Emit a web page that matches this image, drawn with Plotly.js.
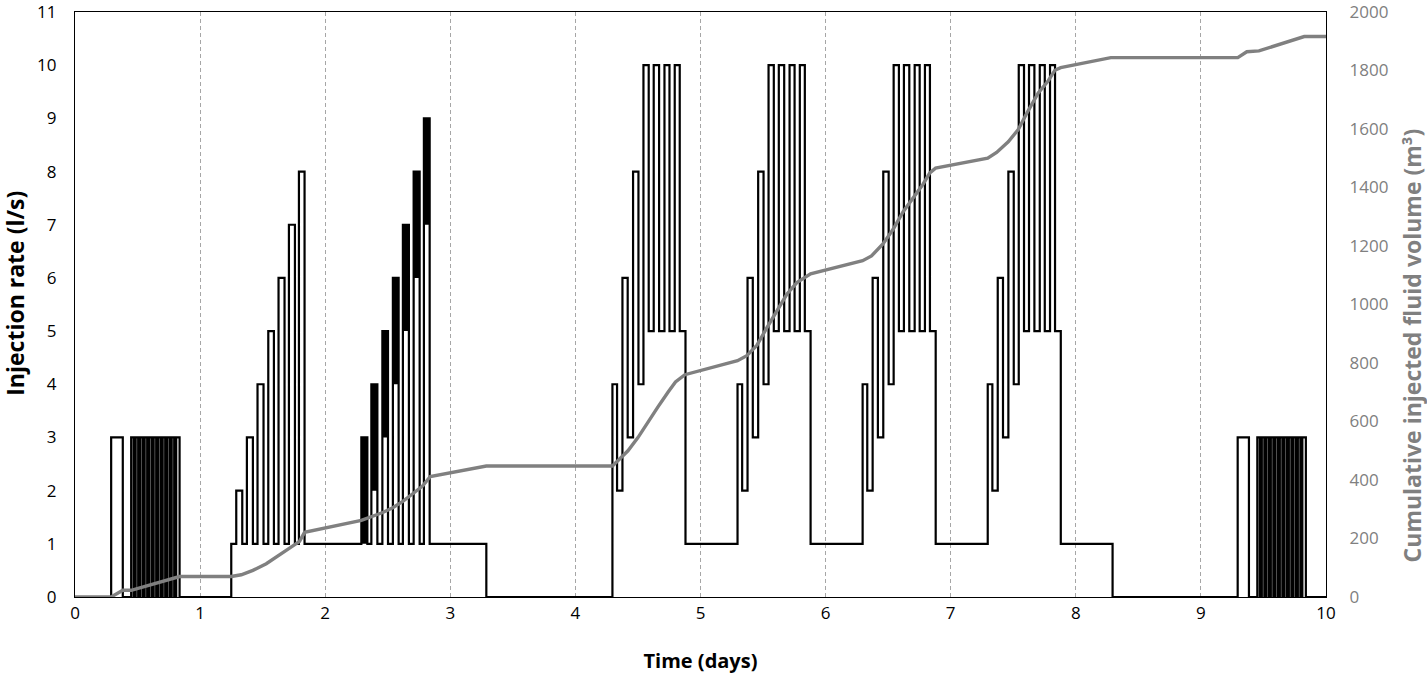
<!DOCTYPE html>
<html>
<head>
<meta charset="utf-8">
<script src="https://cdn.plot.ly/plotly-3.0.1.min.js"></script>
<style>html,body{margin:0;padding:0;background:#fff}#chart{width:1427px;height:674px}</style>
</head>
<body>
<div id="chart"></div>
<script>
// Injection rate step changes (time in days, rate in l/s; value holds until next time)
const rateTime = [
  0, 0.289, 0.382,
  0.449, 0.469, 0.485, 0.505, 0.521, 0.541, 0.557, 0.577, 0.593, 0.613, 0.629, 0.649,
  0.665, 0.685, 0.701, 0.721, 0.737, 0.757, 0.773, 0.793, 0.809, 0.836,
  1.249, 1.289, 1.337, 1.374, 1.422, 1.459, 1.507, 1.545, 1.590, 1.627, 1.675, 1.710, 1.758, 1.790, 1.835,
  2.289, 2.337, 2.369, 2.417, 2.457, 2.502, 2.541, 2.587, 2.621, 2.669, 2.707, 2.755, 2.789, 2.835,
  3.288,
  4.296, 4.333, 4.376, 4.418, 4.461, 4.504, 4.544, 4.586, 4.626, 4.669, 4.712, 4.752, 4.794, 4.834, 4.880,
  5.296, 5.333, 5.376, 5.418, 5.461, 5.504, 5.544, 5.586, 5.626, 5.669, 5.712, 5.752, 5.794, 5.834, 5.880,
  6.296, 6.333, 6.376, 6.418, 6.461, 6.504, 6.544, 6.586, 6.626, 6.669, 6.712, 6.752, 6.794, 6.834, 6.880,
  7.296, 7.333, 7.376, 7.418, 7.461, 7.504, 7.544, 7.586, 7.626, 7.669, 7.712, 7.752, 7.794, 7.834, 7.880,
  8.294,
  9.294, 9.384,
  9.451, 9.471, 9.487, 9.507, 9.523, 9.543, 9.559, 9.579, 9.595, 9.615, 9.631, 9.651,
  9.667, 9.687, 9.703, 9.723, 9.739, 9.759, 9.775, 9.795, 9.811, 9.839,
  10
];
const rateValue = [
  0, 3, 0,
  3, 0, 3, 0, 3, 0, 3, 0, 3, 0, 3, 0,
  3, 0, 3, 0, 3, 0, 3, 0, 3, 0,
  1, 2, 1, 3, 1, 4, 1, 5, 1, 6, 1, 7, 1, 8, 1,
  3, 1, 4, 1, 5, 1, 6, 1, 7, 1, 8, 1, 9, 1,
  0,
  4, 2, 6, 3, 8, 4, 10, 5, 10, 5, 10, 5, 10, 5, 1,
  4, 2, 6, 3, 8, 4, 10, 5, 10, 5, 10, 5, 10, 5, 1,
  4, 2, 6, 3, 8, 4, 10, 5, 10, 5, 10, 5, 10, 5, 1,
  4, 2, 6, 3, 8, 4, 10, 5, 10, 5, 10, 5, 10, 5, 1,
  0,
  3, 0,
  3, 0, 3, 0, 3, 0, 3, 0, 3, 0, 3, 0,
  3, 0, 3, 0, 3, 0, 3, 0, 3, 0,
  0
];
// Densely oscillating parts of the second cycle (drawn solid black)
const denseStart = [2.289, 2.369, 2.457, 2.541, 2.621, 2.707, 2.789];
const denseEnd   = [2.337, 2.417, 2.502, 2.587, 2.669, 2.755, 2.835];
const denseLow   = [1, 2, 3, 4, 5, 6, 7];
const denseHigh  = [3, 4, 5, 6, 7, 8, 9];
// Cumulative injected fluid volume (m3)
const cumTime = [0, 0.289, 0.382, 0.449, 0.836, 1.249, 1.329, 1.422, 1.529, 1.622, 1.715, 1.795, 1.835,
  2.289, 2.38, 2.46, 2.54, 2.62, 2.70, 2.78, 2.84, 3.288, 4.296, 4.35, 4.42, 4.50, 4.58, 4.66, 4.74, 4.80, 4.875,
  5.296, 5.37, 5.45, 5.53, 5.61, 5.69, 5.77, 5.88, 6.296, 6.367, 6.46, 6.54, 6.62, 6.70, 6.78, 6.833, 6.879,
  7.296, 7.367, 7.46, 7.54, 7.62, 7.70, 7.78, 7.833, 7.879, 8.28, 9.295, 9.367, 9.464, 9.826, 10];
const cumVolume = [0, 0, 23, 23, 70, 70, 76, 91, 114, 139, 167, 190, 221,
  262, 275, 289, 305, 327, 353, 380, 412, 448, 448, 470, 500, 545, 600, 650, 700, 735, 760,
  808, 825, 860, 920, 980, 1035, 1075, 1105, 1150, 1166, 1208, 1257, 1317, 1364, 1412, 1450, 1466,
  1500, 1520, 1556, 1598, 1663, 1723, 1765, 1801, 1810, 1844, 1844, 1864, 1867, 1916, 1916];
const xTicks = [0,1,2,3,4,5,6,7,8,9,10];
const yTicks = [0,1,2,3,4,5,6,7,8,9,10,11];
const y2Ticks = [0,200,400,600,800,1000,1200,1400,1600,1800,2000];
const xTitle = 'Time (days)';
const yTitle = 'Injection rate (l/s)';
const y2Title = 'Cumulative injected fluid volume (m³)';

const fx = [], fy = [];
for (let i = 0; i < denseStart.length; i++) {
  fx.push(denseStart[i], denseStart[i], denseEnd[i], denseEnd[i], denseStart[i], null);
  fy.push(denseLow[i], denseHigh[i], denseHigh[i], denseLow[i], denseLow[i], null);
}

const FONT = 'Open Sans, Liberation Sans, sans-serif';
const traces = [
  {x: fx, y: fy, type: 'scatter', mode: 'lines', fill: 'toself', fillcolor: '#000000',
   line: {width: 0, color: '#000000'}, hoverinfo: 'skip', showlegend: false, xaxis: 'x', yaxis: 'y'},
  {x: rateTime, y: rateValue, type: 'scatter', mode: 'lines', line: {shape: 'hv', color: '#000000', width: 2.2},
   showlegend: false, name: 'Injection rate', xaxis: 'x', yaxis: 'y'},
  {x: cumTime, y: cumVolume, type: 'scatter', mode: 'lines', line: {color: '#808080', width: 3.4},
   showlegend: false, name: 'Cumulative volume', xaxis: 'x', yaxis: 'y2'}
];

const layout = {
  width: 1427, height: 674,
  margin: {l: 75, r: 101, t: 12, b: 77},
  paper_bgcolor: '#ffffff', plot_bgcolor: '#ffffff',
  font: {family: FONT, size: 17, color: '#000000'},
  showlegend: false,
  xaxis: {
    range: [0, 10], tickvals: xTicks, ticktext: xTicks.map(String),
    showgrid: true, gridcolor: '#a6a6a6', gridwidth: 1, griddash: '4px,3px',
    zeroline: false, showline: true, linecolor: '#000000', linewidth: 1.2, mirror: true,
    ticks: '', tickfont: {family: FONT, size: 17, color: '#000000'}, ticklabelstandoff: 0,
    ticklabeloverflow: 'allow',
    title: {text: '<b>' + xTitle + '</b>', font: {family: FONT, size: 20, color: '#000000'}, standoff: 32},
    automargin: false
  },
  yaxis: {
    range: [0, 11], tickvals: yTicks, ticktext: yTicks.map(String), showgrid: false, zeroline: false,
    showline: true, linecolor: '#000000', linewidth: 1.2,
    ticks: '', tickfont: {family: FONT, size: 17, color: '#000000'}, ticklabelstandoff: 14,
    ticklabeloverflow: 'allow',
    automargin: false
  },
  yaxis2: {
    range: [0, 2000], tickvals: y2Ticks, ticktext: y2Ticks.map(String), overlaying: 'y', side: 'right',
    showgrid: false, zeroline: false, showline: true, linecolor: '#000000', linewidth: 1.2,
    ticks: '', tickfont: {family: FONT, size: 17, color: '#808080'}, ticklabelstandoff: 19,
    ticklabeloverflow: 'allow',
    automargin: false
  },
  annotations: [
    {text: '<b>' + yTitle + '</b>', xref: 'paper', yref: 'paper', x: -0.048, y: 0.52,
     xanchor: 'center', yanchor: 'middle', textangle: -90, showarrow: false,
     font: {family: FONT, size: 23, color: '#000000'}},
    {text: '<b>' + y2Title + '</b>', xref: 'paper', yref: 'paper', x: 1.0695, y: 0.43,
     xanchor: 'center', yanchor: 'middle', textangle: -90, showarrow: false,
     font: {family: FONT, size: 23, color: '#808080'}}
  ]
};

Plotly.newPlot('chart', traces, layout, {displayModeBar: false, staticPlot: true});
</script>
</body>
</html>
